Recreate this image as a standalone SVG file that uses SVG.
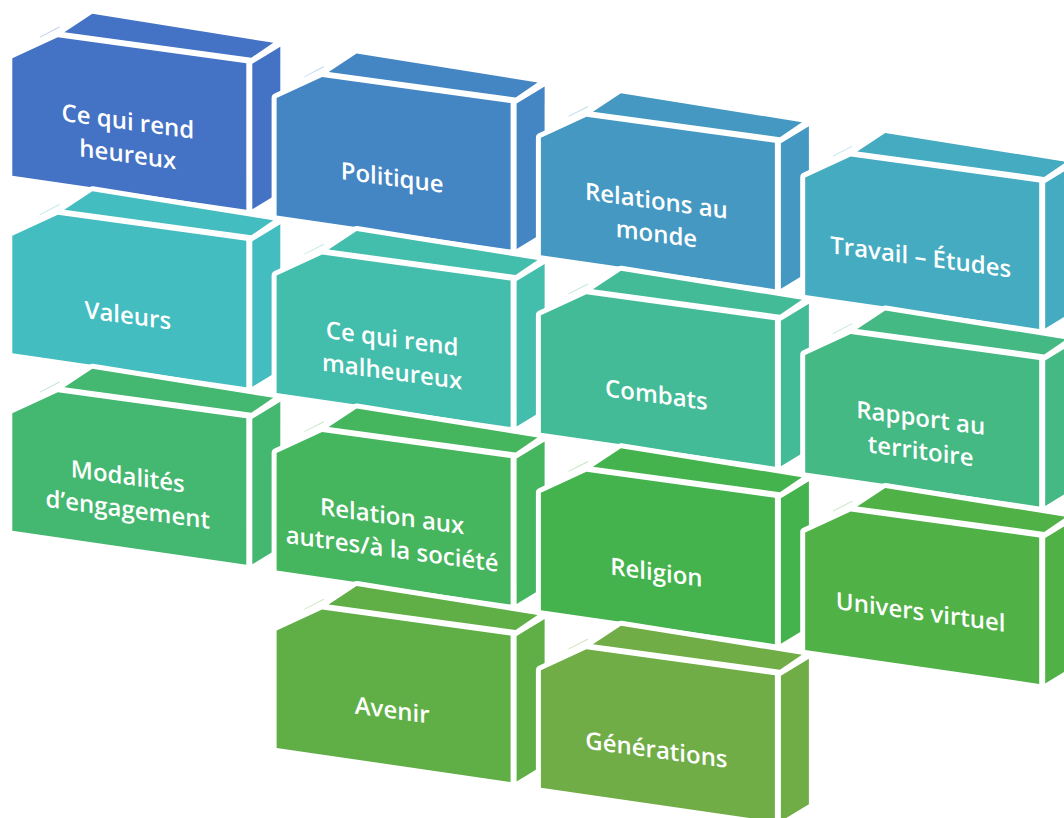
<svg xmlns="http://www.w3.org/2000/svg" width="1064" height="818" viewBox="0 0 1064 818">
<style>
.halo{fill:#fff;stroke:#fff;stroke-width:10;stroke-linejoin:round}
.sl{opacity:.35}
text{font-family:"Open Sans","Noto Sans","DejaVu Sans",sans-serif;font-weight:600;font-size:24px;fill:#fff;text-anchor:middle;dominant-baseline:central}
.c0{fill:hsl(218.4,52%,51.8%)}
.c1{fill:hsl(209,51.2%,51.5%)}
.c2{fill:hsl(199.6,50.4%,51.2%)}
.c3{fill:hsl(190.1,49.6%,50.9%)}
.c4{fill:hsl(180.7,48.9%,50.6%)}
.c5{fill:hsl(171.3,48.1%,50.3%)}
.c6{fill:hsl(161.9,47.3%,49.9%)}
.c7{fill:hsl(152.4,46.5%,49.6%)}
.c8{fill:hsl(143,45.7%,49.3%)}
.c9{fill:hsl(133.6,44.9%,49%)}
.c10{fill:hsl(124.2,44.2%,48.7%)}
.c11{fill:hsl(114.7,43.4%,48.4%)}
.c12{fill:hsl(105.3,42.6%,48.1%)}
.c13{fill:hsl(95.9,41.8%,47.8%)}
</style>
<defs>
<g id="box">
<path class="halo" d="M0,0 L45.5,-21 L234,5 L234,151.5 L0,117.5 Z M52,-26 L80,-44.5 L261,-15.5 L239,-0.5 Z M240,5.5 L268,-11.5 L268,134 L240,151 Z"/>
<path class="sl" d="M27.5,-21.6 L47,-31.7 L47.3,-30.8 L27.9,-20.9 Z"/>
<path d="M0,0 L45.5,-21 L234,5 L234,151.5 L0,117.5 Z"/>
<path d="M52,-26 L80,-44.5 L261,-15.5 L239,-0.5 Z"/>
<path d="M240,5.5 L268,-11.5 L268,134 L240,151 Z"/>
</g>
</defs>
<g id="connectors"/>
<g id="n-heureux" transform="translate(12.3,58.3)"><use href="#box" class="c0"/><g transform="translate(115.5,78.5) skewY(7.7)"><text y="-16.5">Ce qui rend</text><text y="16.5">heureux</text></g></g>
<g id="n-politique" transform="translate(276.6,98)"><use href="#box" class="c1"/><g transform="translate(115.5,78.5) skewY(7.7)"><text y="0">Politique</text></g></g>
<g id="n-relations-monde" transform="translate(540.9,137.7)"><use href="#box" class="c2"/><g transform="translate(115.5,78.5) skewY(7.7)"><text y="-16.5">Relations au</text><text y="16.5">monde</text></g></g>
<g id="n-travail" transform="translate(805.2,177.4)"><use href="#box" class="c3"/><g transform="translate(115.5,78.5) skewY(7.7)"><text y="0">Travail – Études</text></g></g>
<g id="n-valeurs" transform="translate(12.3,235.8)"><use href="#box" class="c4"/><g transform="translate(115.5,78.5) skewY(7.7)"><text y="0">Valeurs</text></g></g>
<g id="n-malheureux" transform="translate(276.6,275.5)"><use href="#box" class="c5"/><g transform="translate(115.5,78.5) skewY(7.7)"><text y="-16.5">Ce qui rend</text><text y="16.5">malheureux</text></g></g>
<g id="n-combats" transform="translate(540.9,315.2)"><use href="#box" class="c6"/><g transform="translate(115.5,78.5) skewY(7.7)"><text y="0">Combats</text></g></g>
<g id="n-territoire" transform="translate(805.2,354.9)"><use href="#box" class="c7"/><g transform="translate(115.5,78.5) skewY(7.7)"><text y="-16.5">Rapport au</text><text y="16.5">territoire</text></g></g>
<g id="n-modalites" transform="translate(12.3,413.3)"><use href="#box" class="c8"/><g transform="translate(115.5,78.5) skewY(7.7)"><text y="-16.5">Modalités</text><text y="16.5">d’engagement</text></g></g>
<g id="n-relation-autres" transform="translate(276.6,453)"><use href="#box" class="c9"/><g transform="translate(115.5,78.5) skewY(7.7)"><text y="-16.5">Relation aux</text><text y="16.5">autres/à la société</text></g></g>
<g id="n-religion" transform="translate(540.9,492.7)"><use href="#box" class="c10"/><g transform="translate(115.5,78.5) skewY(7.7)"><text y="0">Religion</text></g></g>
<g id="n-univers" transform="translate(805.2,532.4)"><use href="#box" class="c11"/><g transform="translate(115.5,78.5) skewY(7.7)"><text y="0">Univers virtuel</text></g></g>
<g id="n-avenir" transform="translate(276.6,630.5)"><use href="#box" class="c12"/><g transform="translate(115.5,78.5) skewY(7.7)"><text y="0">Avenir</text></g></g>
<g id="n-generations" transform="translate(540.9,670.2)"><use href="#box" class="c13"/><g transform="translate(115.5,78.5) skewY(7.7)"><text y="0">Générations</text></g></g>
</svg>
